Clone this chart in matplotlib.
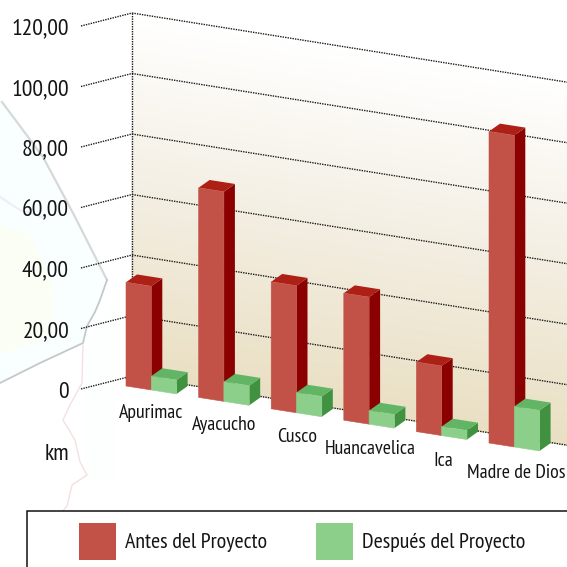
import numpy as np
import matplotlib
matplotlib.use("Agg")
import matplotlib.pyplot as plt
from matplotlib.patches import Polygon, Rectangle
from matplotlib.colors import LinearSegmentedColormap
from matplotlib.font_manager import fontManager

categories = ["Apurimac", "Ayacucho", "Cusco", "Huancavelica", "Ica", "Madre de Dios"]
antes = [34.3, 69.3, 42, 42, 23, 103]
despues = [4.6, 6.5, 6.7, 4.5, 3, 13.4]
ticks = [0, 20, 40, 60, 80, 100, 120]
tick_labels = ["0", "20,00", "40,00", "60,00", "80,00", "100,00", "120,00"]
unit = "km"
series_names = ["Antes del Proyecto", "Después del Proyecto"]

names = {f.name for f in fontManager.ttflist}
FONT = next(n for n in ["PT Sans Narrow", "Fira Sans Extra Condensed", "Roboto Condensed",
                        "Liberation Sans"] if n in names)
plt.rcParams["font.family"] = [FONT, "DejaVu Sans"]

W = 567
fig = plt.figure(figsize=(W / 100, W / 100), dpi=100)
ax = fig.add_axes([0, 0, 1, 1])
ax.set_xlim(0, W)
ax.set_ylim(W, 0)
ax.axis("off")

# pseudo-3D scales
K = 3.025           # px per value unit
SLOPE = 0.159       # floor slope
BACK_X, BACK_Y = 132, 376
WALL_R = 567


def wall(x, v):
    return x, BACK_Y + (x - BACK_X) * SLOPE - v * K


def bar_pt(cat, v, depth=0.0):
    x = 126 + 72.6 * cat + 11 * depth
    y = 386 + 11.4 * cat - v * K - 7.8 * depth
    return x, y


# faint map background
ax.add_patch(Polygon([(0, 100), (43, 157), (73, 213), (107, 280), (100, 300), (87, 326),
                      (83, 343), (0, 383)], fc="#F9FEFE", ec="none", zorder=0))
ax.add_patch(Polygon([(0, 225), (30, 235), (55, 290), (50, 335), (0, 355)],
                     fc="#FBFEF5", ec="none", zorder=0.1))
ax.add_patch(Polygon([(85, 345), (115, 300), (115, 480), (87, 480)],
                     fc="#FDFEFE", ec="none", zorder=0.1))
ax.plot([0, 20, 45], [197, 210, 218], color="#ECEEF8", lw=1.5, zorder=0.2)
ax.plot([2, 43, 73, 107], [102, 157, 213, 280], color="#D6D9D9", lw=1.6, zorder=0.3)
ax.plot([107, 100, 95, 87, 83, 40, 0], [280, 300, 312, 326, 343, 363, 383],
        color="#C3C9C9", lw=1.3, zorder=0.3)
ax.plot([83, 82, 70, 63, 75, 80, 87, 72, 67, 55, 40, 30],
        [345, 383, 405, 420, 440, 462, 475, 485, 506, 520, 536, 567],
        color="#F5E0E0", lw=1.0, zorder=0.3)

# wall gradient
cmap = LinearSegmentedColormap.from_list("w", ["#FFFFFF", "#F3EEE2", "#E9DFC3"])
xs = np.array([BACK_X, WALL_R], float)
ts = np.linspace(0, 120, 80)
X = np.tile(xs, (ts.size, 1))
Y = np.array([[wall(x, v)[1] for x in xs] for v in ts])
C = np.tile((1 - ts / 120)[:, None], (1, 2))
ax.pcolormesh(X, Y, C, cmap=cmap, shading="gouraud", zorder=1, vmin=0, vmax=1)

# grid
dot = dict(color="#1a1a1a", lw=1.0, linestyle=(0, (1.0, 0.8)), zorder=2)
for t, lab in zip(ticks, tick_labels):
    _, yb = wall(BACK_X, t)
    ax.plot([81, BACK_X], [yb + 13, yb], **dot)
    ax.plot([BACK_X, WALL_R], [yb, wall(WALL_R, t)[1]], **dot)
    ax.text(69, yb + 16, lab, ha="right", va="center", fontsize=17, color="#141414", zorder=5)
ax.plot([BACK_X, BACK_X], [wall(BACK_X, 120)[1], BACK_Y], **dot)
ax.text(69, 454, unit, ha="right", va="center", fontsize=17, color="#141414", zorder=5)

BW = 25.3 / 72.6


def box(cat, v, front, side, top):
    a = bar_pt(cat, 0)
    b = bar_pt(cat + BW, 0)
    c = bar_pt(cat + BW, v)
    d = bar_pt(cat, v)
    e = bar_pt(cat + BW, 0, 1)
    f = bar_pt(cat + BW, v, 1)
    g = bar_pt(cat, v, 1)
    ax.add_patch(Polygon([b, e, f, c], fc=side, ec="none", zorder=3))
    ax.add_patch(Polygon([d, c, f, g], fc=top, ec="none", zorder=3))
    ax.add_patch(Polygon([a, b, c, d], fc=front, ec=front, lw=0.4, zorder=3))


for i, (r, g) in enumerate(zip(antes, despues)):
    box(i, r, "#C25247", "#8B0000", "#AE2015")
    box(i + BW, g, "#8CCF8B", "#419240", "#62B565")
    ax.text(151 + 73 * i, 413 + 12 * i, categories[i], ha="center", va="center",
            fontsize=14.3, color="#141414", zorder=5)

# legend
ax.add_patch(Rectangle((26.5, 510.5), 560, 80, fc="white", ec="#111111", lw=1.1, zorder=4))
ax.add_patch(Rectangle((79, 523), 37, 37, fc="#C25247", ec="none", zorder=5))
ax.add_patch(Rectangle((316, 523), 37, 37, fc="#8CCF8B", ec="none", zorder=5))
ax.text(125, 542, series_names[0], va="center", fontsize=15.8, color="#141414", zorder=5)
ax.text(362, 542, series_names[1], va="center", fontsize=15.8, color="#141414", zorder=5)

fig.savefig("out.png", dpi=100)
